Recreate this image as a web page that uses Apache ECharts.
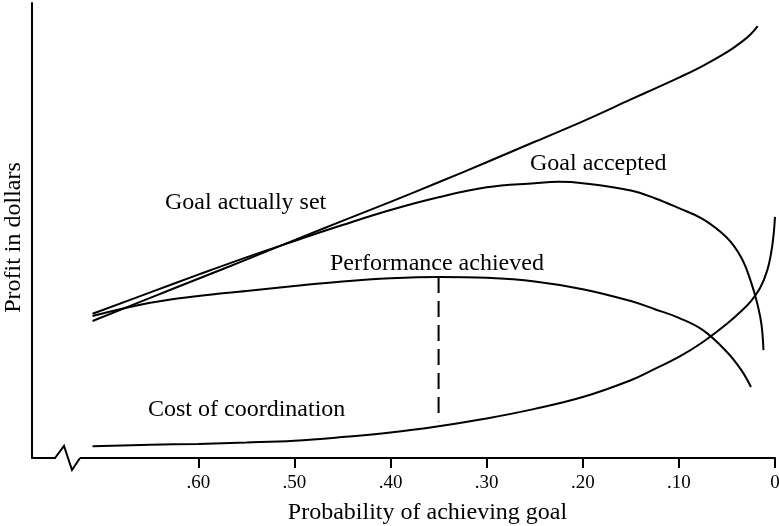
<!DOCTYPE html>
<html>
<head>
<meta charset="utf-8">
<script src="https://cdn.jsdelivr.net/npm/echarts@6/dist/echarts.min.js"></script>
<style>
html,body{margin:0;padding:0;background:#fff;}
#chart{width:779px;height:526px;}
</style>
</head>
<body>
<div id="chart"></div>
<script>
// Probability of achieving goal (x) and profit (arbitrary units, y)
const tickValues = [0, 0.1, 0.2, 0.3, 0.4, 0.5, 0.6];
const tickLabels = ['0', '.10', '.20', '.30', '.40', '.50', '.60'];

const goalSetP = [0.71, 0.65, 0.6, 0.55, 0.5, 0.45, 0.4, 0.35, 0.3, 0.25, 0.2, 0.15, 0.125, 0.1, 0.075, 0.05, 0.035, 0.025, 0.018];
const goalSetV = [30.1, 35.2, 39.4, 43.6, 47.9, 52.1, 56.3, 60.6, 65.0, 69.5, 74.0, 78.8, 81.2, 83.6, 86.2, 89.2, 91.4, 93.2, 94.9];

const goalAccP = [0.71, 0.65, 0.6, 0.55, 0.5, 0.45, 0.4, 0.35, 0.3, 0.25, 0.225, 0.2, 0.15, 0.125, 0.1, 0.075, 0.05, 0.035, 0.025, 0.018, 0.014, 0.012];
const goalAccV = [31.7, 36.4, 40.3, 44.1, 47.7, 51.2, 54.5, 57.3, 59.5, 60.4, 60.7, 60.4, 58.8, 57.1, 54.9, 52.5, 48.4, 44.0, 38.7, 33.6, 29.2, 23.7];

const perfP = [0.71, 0.65, 0.6, 0.55, 0.5, 0.45, 0.4, 0.35, 0.3, 0.25, 0.2, 0.15, 0.125, 0.1, 0.075, 0.05, 0.035, 0.025];
const perfV = [31.2, 34.1, 35.6, 36.7, 37.8, 38.8, 39.5, 39.8, 39.6, 38.8, 37.1, 34.5, 32.7, 30.8, 28.1, 23.3, 19.3, 15.6];

const costP = [0.71, 0.65, 0.6, 0.55, 0.5, 0.45, 0.4, 0.35, 0.3, 0.25, 0.2, 0.15, 0.125, 0.1, 0.075, 0.05, 0.035, 0.025, 0.015, 0.008, 0.004, 0.0015, 0];
const costV = [2.6, 2.9, 3.1, 3.4, 3.8, 4.6, 5.6, 7.0, 8.7, 10.8, 13.4, 17.1, 19.6, 22.2, 25.5, 29.5, 32.3, 34.5, 37.6, 41.3, 45.1, 49.0, 53.0];

const dashP = [0.35, 0.35];
const dashV = [39.8, 8.1];

const curveNames = ['Goal actually set', 'Goal accepted', 'Performance achieved', 'Cost of coordination'];
const xTitle = 'Probability of achieving goal';
const yTitle = 'Profit in dollars';

const FONT = '"Liberation Serif", "Times New Roman", serif';
const zip = (a, b) => a.map((v, i) => [v, b[i]]);

const chart = echarts.init(document.getElementById('chart'), null, {renderer: 'canvas'});

const lineSeries = (name, p, v) => ({
  name: name, type: 'line', data: zip(p, v), smooth: 0.4,
  showSymbol: false, symbol: 'none', silent: true,
  lineStyle: {color: '#000', width: 2}
});

chart.setOption({
  animation: false,
  backgroundColor: '#fff',
  grid: {left: 32, right: 4, top: 3, bottom: 68, containLabel: false, outerBoundsMode: 'none'},
  xAxis: {
    type: 'value', inverse: true, min: 0, max: 0.773,
    name: xTitle, nameLocation: 'middle', nameGap: 43,
    nameTextStyle: {fontFamily: FONT, fontSize: 24, color: '#000', padding: [0, 0, 0, 48]},
    axisLine: {show: true, onZero: false, lineStyle: {color: '#000', width: 2}},
    axisTick: {show: true, customValues: tickValues, length: 10, lineStyle: {color: '#000', width: 2}},
    axisLabel: {
      customValues: tickValues, margin: 16, fontFamily: FONT, fontSize: 19, color: '#000',
      formatter: (v) => tickLabels[tickValues.findIndex(t => Math.abs(t - v) < 1e-9)] || ''
    },
    splitLine: {show: false}
  },
  yAxis: {
    type: 'value', min: 0, max: 100, position: 'left',
    name: yTitle, nameLocation: 'middle', nameGap: 6,
    nameTextStyle: {fontFamily: FONT, fontSize: 24, color: '#000', padding: [0, 14, 0, 0]},
    axisLine: {show: true, onZero: false, lineStyle: {color: '#000', width: 2}},
    axisTick: {show: false}, axisLabel: {show: false}, splitLine: {show: false}
  },
  series: [
    lineSeries(curveNames[0], goalSetP, goalSetV),
    lineSeries(curveNames[1], goalAccP, goalAccV),
    lineSeries(curveNames[2], perfP, perfV),
    lineSeries(curveNames[3], costP, costV),
    {
      name: 'dashed', type: 'line', data: zip(dashP, dashV), showSymbol: false, symbol: 'none', silent: true,
      lineStyle: {color: '#000', width: 2, type: [16, 8]}
    }
  ],
  graphic: [
    {type: 'rect', z: 100, shape: {x: 56, y: 455, width: 24, height: 6}, style: {fill: '#fff'}},
    {type: 'polyline', z: 101, shape: {points: [[55, 458], [64, 446], [72, 470], [80, 458]]},
     style: {stroke: '#000', lineWidth: 2, fill: null}},
    {type: 'text', z: 101, left: 165, top: 191, style: {text: curveNames[0], font: '24px ' + FONT, fill: '#000'}},
    {type: 'text', z: 101, left: 530, top: 152, style: {text: curveNames[1], font: '24px ' + FONT, fill: '#000'}},
    {type: 'text', z: 101, left: 330, top: 252, style: {text: curveNames[2], font: '24px ' + FONT, fill: '#000'}},
    {type: 'text', z: 101, left: 148, top: 398, style: {text: curveNames[3], font: '24px ' + FONT, fill: '#000'}}
  ]
});
</script>
</body>
</html>
